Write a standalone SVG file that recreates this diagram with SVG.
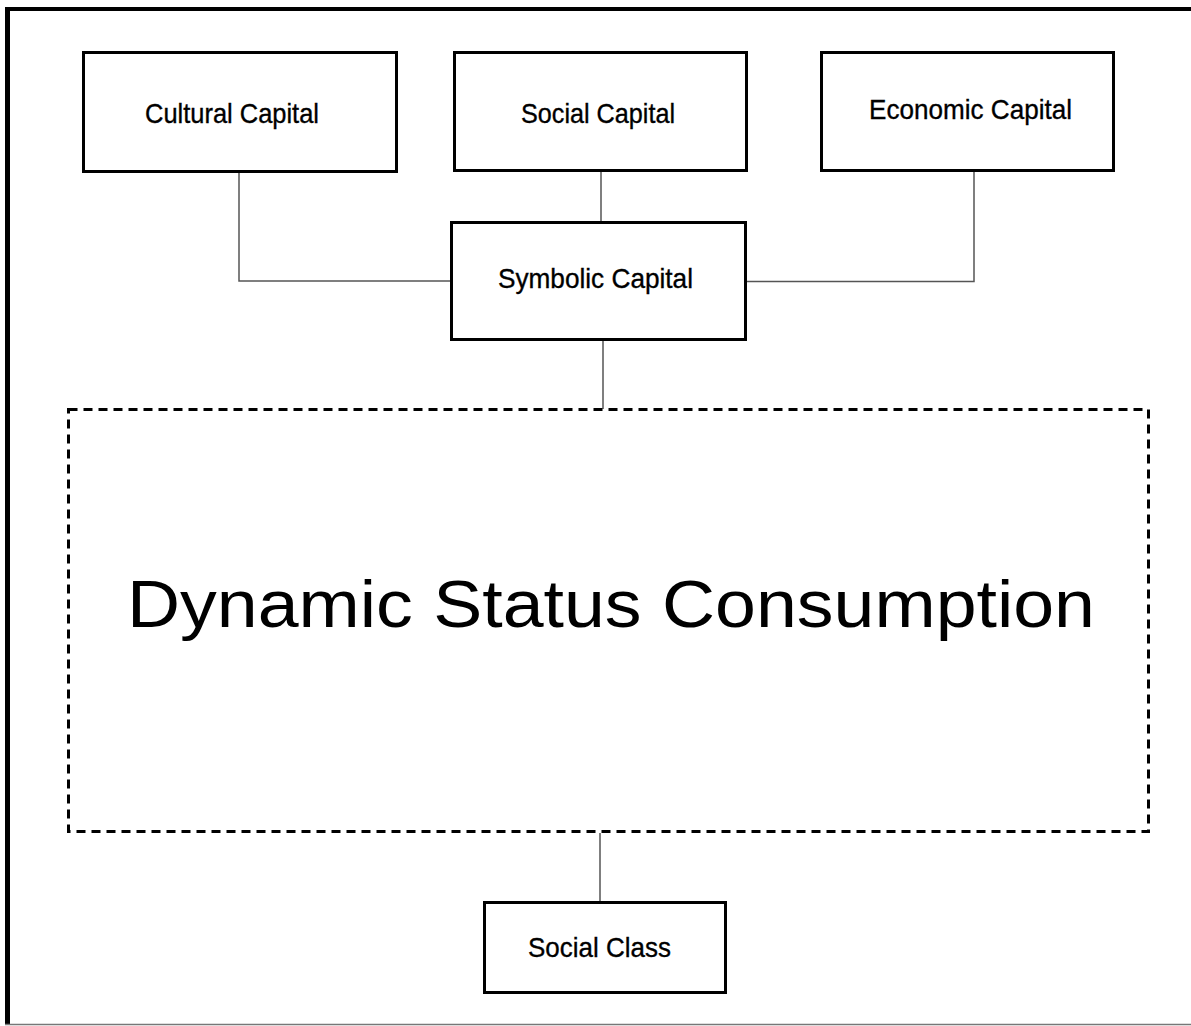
<svg xmlns="http://www.w3.org/2000/svg" width="1191" height="1026" viewBox="0 0 1191 1026">
  <style>
    .box { fill: #ffffff; stroke: #000000; stroke-width: 3; }
    .dash { fill: none; stroke: #000000; stroke-width: 3; stroke-dasharray: 9 6; }
    .conn { fill: none; stroke: #555555; stroke-width: 1.5; }
    .lbl { font-family: "Liberation Sans", Arial, sans-serif; font-size: 28px; fill: #000000; stroke: #000000; stroke-width: 0.35; text-anchor: start; }
    .big { font-family: "Liberation Sans", Arial, sans-serif; font-size: 66px; fill: #000000; }
  </style>
  <rect x="0" y="0" width="1191" height="1026" fill="#ffffff"/>
  <g id="frame">
    <line x1="5" y1="9" x2="1191" y2="9" stroke="#000000" stroke-width="4"/>
    <line x1="7.5" y1="7" x2="7.5" y2="1025" stroke="#000000" stroke-width="5"/>
    <line x1="5" y1="1024.5" x2="1191" y2="1024.5" stroke="#777777" stroke-width="1.5"/>
  </g>
  <g id="connectors">
    <polyline class="conn" points="239,173 239,281 451,281"/>
    <polyline class="conn" points="974,172 974,281.5 746,281.5"/>
    <line class="conn" x1="601" y1="172" x2="601" y2="222"/>
    <line class="conn" x1="603" y1="341" x2="603" y2="409"/>
    <line class="conn" x1="600" y1="833" x2="600" y2="902"/>
  </g>
  <g id="cultural-capital">
    <rect class="box" x="83.5" y="52.5" width="313" height="119"/>
    <text class="lbl" x="145" y="123" textLength="174" lengthAdjust="spacingAndGlyphs">Cultural Capital</text>
  </g>
  <g id="social-capital">
    <rect class="box" x="454.5" y="52.5" width="292" height="118"/>
    <text class="lbl" x="521" y="123" textLength="154" lengthAdjust="spacingAndGlyphs">Social Capital</text>
  </g>
  <g id="economic-capital">
    <rect class="box" x="821.5" y="52.5" width="292" height="118"/>
    <text class="lbl" x="869" y="119" textLength="203" lengthAdjust="spacingAndGlyphs">Economic Capital</text>
  </g>
  <g id="symbolic-capital">
    <rect class="box" x="451.5" y="222.5" width="294" height="117"/>
    <text class="lbl" x="498" y="288" textLength="195" lengthAdjust="spacingAndGlyphs">Symbolic Capital</text>
  </g>
  <g id="dynamic-status-consumption">
    <rect class="dash" x="68.5" y="409.5" width="1080" height="422"/>
    <text class="big" x="127" y="627" textLength="968" lengthAdjust="spacingAndGlyphs">Dynamic Status Consumption</text>
  </g>
  <g id="social-class">
    <rect class="box" x="484.5" y="902.5" width="241" height="90"/>
    <text class="lbl" x="528" y="957" textLength="143" lengthAdjust="spacingAndGlyphs">Social Class</text>
  </g>
</svg>
